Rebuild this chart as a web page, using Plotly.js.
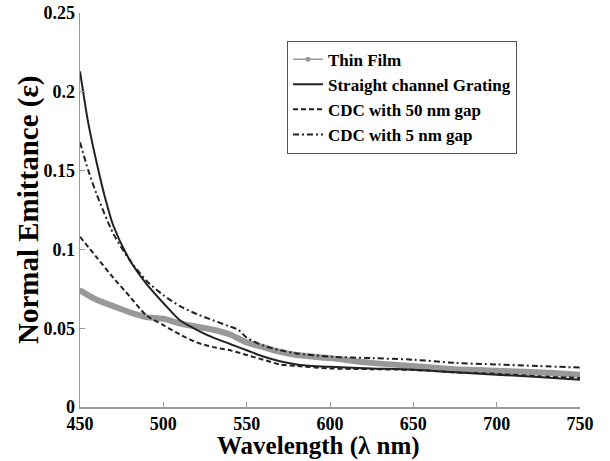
<!DOCTYPE html>
<html>
<head>
<meta charset="utf-8">
<script src="https://cdn.plot.ly/plotly-3.0.1.min.js"></script>
<style>html,body{margin:0;padding:0;background:#fff;}#chart{width:610px;height:461px;}</style>
</head>
<body>
<div id="chart"></div>
<script>
// Data
const seriesNames = ["Thin Film", "Straight channel Grating", "CDC with 50 nm gap", "CDC with 5 nm gap"];
const xTitle = "Wavelength (λ nm)";
const yTitle = "Normal Emittance (ε)";

const wlThin = [450, 460, 470, 480, 490, 500, 510, 520, 530, 540, 550, 560, 570, 580, 600, 625, 650, 675, 700, 725, 750];
const thinFilm = [0.074, 0.068, 0.064, 0.060, 0.057, 0.056, 0.053, 0.051, 0.049, 0.046, 0.041, 0.038, 0.035, 0.033, 0.031, 0.028, 0.026, 0.024, 0.023, 0.022, 0.0205];

const wlGrating = [450, 455, 460, 465, 470, 480, 490, 500, 510, 520, 530, 540, 550, 560, 570, 580, 590, 600, 625, 650, 675, 700, 725, 750];
const grating = [0.213, 0.180, 0.155, 0.133, 0.115, 0.093, 0.078, 0.066, 0.055, 0.049, 0.044, 0.040, 0.036, 0.032, 0.029, 0.027, 0.026, 0.0255, 0.0245, 0.0236, 0.022, 0.0205, 0.019, 0.0173];

const wlCdc50 = [450, 460, 470, 480, 490, 500, 510, 520, 530, 540, 550, 560, 570, 580, 600, 625, 650, 675, 700, 725, 750];
const cdc50 = [0.108, 0.095, 0.082, 0.070, 0.058, 0.052, 0.046, 0.041, 0.038, 0.036, 0.033, 0.030, 0.027, 0.026, 0.0245, 0.024, 0.0235, 0.022, 0.021, 0.0195, 0.0184];

const wlCdc5 = [450, 455, 460, 470, 480, 490, 500, 510, 520, 530, 540, 545, 550, 560, 570, 580, 600, 625, 650, 675, 700, 725, 750];
const cdc5 = [0.168, 0.150, 0.135, 0.110, 0.093, 0.080, 0.071, 0.064, 0.059, 0.055, 0.051, 0.049, 0.044, 0.039, 0.036, 0.034, 0.032, 0.031, 0.030, 0.028, 0.027, 0.026, 0.025];

const xTicks = [450, 500, 550, 600, 650, 700, 750];
const yTicks = [0, 0.05, 0.1, 0.15, 0.2, 0.25];

const serif = "Liberation Serif, Times New Roman, serif";

const traces = [
  {x: wlThin, y: thinFilm, mode: "lines", line: {color: "#999", width: 6, shape: "spline", smoothing: 0.8}, showlegend: false, hoverinfo: "skip"},
  {x: wlThin, y: thinFilm, name: seriesNames[0], mode: "lines+markers", line: {color: "#999", width: 1.5, shape: "spline", smoothing: 0.8},
   marker: {symbol: "circle", size: 5, color: "#999"}},
  {x: wlGrating, y: grating, name: seriesNames[1], mode: "lines", line: {color: "#222", width: 2, shape: "spline", smoothing: 0.8}},
  {x: wlCdc50, y: cdc50, name: seriesNames[2], mode: "lines", line: {color: "#222", width: 2, dash: "5px,3px", shape: "spline", smoothing: 0.8}},
  {x: wlCdc5, y: cdc5, name: seriesNames[3], mode: "lines", line: {color: "#222", width: 2, dash: "6px,3px,2px,3px", shape: "spline", smoothing: 0.8}}
];

const layout = {
  width: 610, height: 461,
  margin: {l: 80, r: 30, t: 13, b: 54},
  paper_bgcolor: "#fff", plot_bgcolor: "#fff",
  font: {family: serif, color: "#000"},
  showlegend: true,
  legend: {
    x: 0.414, y: 0.93, xanchor: "left", yanchor: "top",
    bgcolor: "#fff", bordercolor: "#555", borderwidth: 1,
    font: {family: serif, size: 17, color: "#000", weight: "bold"},
    tracegroupgap: 0
  },
  xaxis: {
    range: [450, 750], tickvals: xTicks, ticktext: xTicks.map(String),
    showgrid: false, zeroline: false, showline: true, linecolor: "#999", linewidth: 1.5,
    ticks: "inside", ticklen: 5, tickcolor: "#999",
    tickfont: {family: serif, size: 18, color: "#000", weight: "bold"}
  },
  yaxis: {
    range: [0, 0.25], tickvals: yTicks, ticktext: yTicks.map(String),
    showgrid: false, zeroline: false, showline: true, linecolor: "#999", linewidth: 1.5,
    ticks: "inside", ticklen: 5, tickcolor: "#999",
    tickfont: {family: serif, size: 18, color: "#000", weight: "bold"}
  },
  annotations: [
    {text: xTitle, xref: "paper", yref: "paper", x: 0.476, y: -0.098, xanchor: "center", yanchor: "middle",
     showarrow: false, borderpad: 0, font: {family: serif, size: 25, color: "#000", weight: "bold"}},
    {text: yTitle, xref: "paper", yref: "paper", x: -0.104, y: 0.5, xanchor: "center", yanchor: "middle",
     textangle: -90, showarrow: false, font: {family: serif, size: 29, color: "#000", weight: "bold"}}
  ]
};

Plotly.newPlot("chart", traces, layout, {displayModeBar: false, staticPlot: true});
</script>
</body>
</html>
